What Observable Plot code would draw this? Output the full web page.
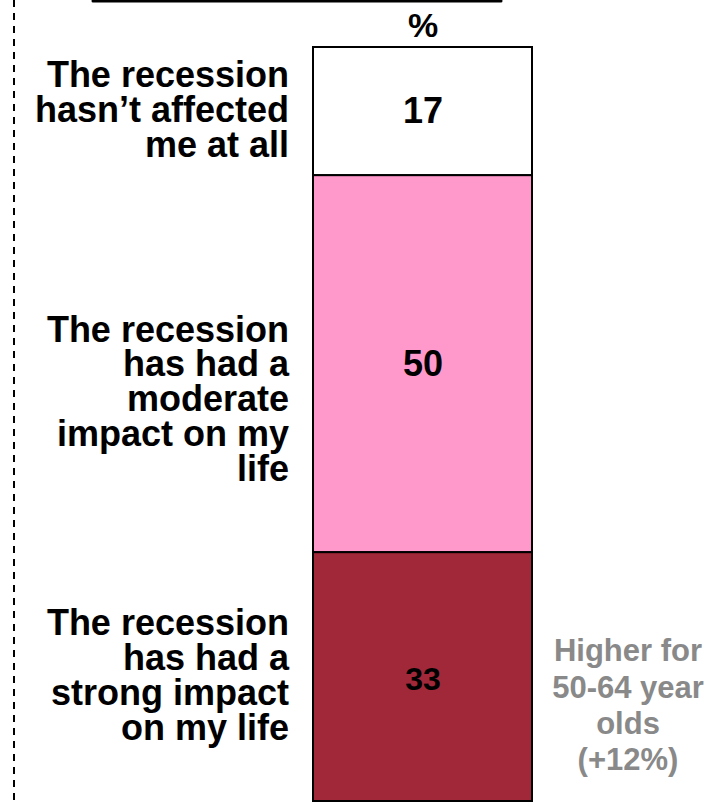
<!DOCTYPE html>
<html>
<head>
<meta charset="utf-8">
<script src="https://cdn.jsdelivr.net/npm/d3@7"></script>
<script src="https://cdn.jsdelivr.net/npm/@observablehq/plot@0.6"></script>
<style>
  html, body { margin: 0; padding: 0; background: #fff; }
  #wrap { position: relative; width: 720px; height: 804px; overflow: hidden; }
  #deco { position: absolute; left: 0; top: 0; pointer-events: none; }
  #chart { position: absolute; left: 0; top: 0; }
</style>
</head>
<body>
<div id="wrap">
  <div id="chart"></div>
  <svg id="deco" width="720" height="804">
    <line x1="93" y1="1" x2="501" y2="1" stroke="#000" stroke-width="3" stroke-linecap="round"/>
    <line x1="14" y1="0" x2="14" y2="804" stroke="#000" stroke-width="2" stroke-dasharray="7,6"/>
  </svg>
</div>
<script>
const columns = ["%"];
const categories = [
  "The recession\nhasn’t affected\nme at all",
  "The recession\nhas had a\nmoderate\nimpact on my\nlife",
  "The recession\nhas had a\nstrong impact\non my life"
];
const values = [17, 50, 33];
const annotation = "Higher for\n50-64 year\nolds\n(+12%)";

const fills = ["#ffffff", "#ff99cc", "#a12839"];

// stack from the bottom: last category sits at the bottom
const rows = categories.map((c, i) => ({label: c, value: values[i], col: columns[0], idx: i}));
let acc = 0;
for (let i = rows.length - 1; i >= 0; i--) {
  rows[i].y1 = acc;
  acc += rows[i].value;
  rows[i].y2 = acc;
  rows[i].mid = (rows[i].y1 + rows[i].y2) / 2;
}

const font = "'Liberation Sans', Arial, Helvetica, sans-serif";

const plot = Plot.plot({
  width: 720,
  height: 804,
  marginTop: 47,
  marginBottom: 3,
  marginLeft: 313,
  marginRight: 188,
  style: {fontFamily: font, fontWeight: "bold", fontSize: "34px", color: "#000", background: "transparent", overflow: "visible"},
  x: {domain: columns, padding: 0, axis: "top", label: null, tickSize: 0, tickPadding: 11},
  y: {domain: [0, 100], axis: null},
  color: {domain: categories, range: fills},
  marks: [
    Plot.barY(rows, {x: "col", y1: "y1", y2: "y2", fill: "label", stroke: "#000", strokeWidth: 2}),
    Plot.text(rows.filter(d => d.idx !== 2), {x: "col", y: "mid", text: d => String(d.value), fontSize: 36, fontWeight: "bold", fill: "#000"}),
    Plot.text(rows.filter(d => d.idx === 2), {x: "col", y: "mid", text: d => String(d.value), dy: 3, fontSize: 32, fontWeight: "bold", fill: "#000"}),
    Plot.text(rows.filter(d => d.idx !== 1), {x: "col", y: "mid", text: "label", textAnchor: "end", dx: -134, dy: -1, fontSize: 36, fontWeight: "bold", lineHeight: 0.97, fill: "#000"}),
    Plot.text(rows.filter(d => d.idx === 1), {x: "col", y: "mid", text: "label", textAnchor: "end", dx: -134, dy: 36, fontSize: 36, fontWeight: "bold", lineHeight: 0.97, fill: "#000"}),
    Plot.text(rows.filter(d => d.idx === 2), {x: "col", y: "mid", text: () => annotation, textAnchor: "middle", dx: 205, dy: 27, fontSize: 31, fontWeight: "bold", lineHeight: 1.17, fill: "#898989"})
  ]
});
document.getElementById("chart").appendChild(plot);
</script>
</body>
</html>
